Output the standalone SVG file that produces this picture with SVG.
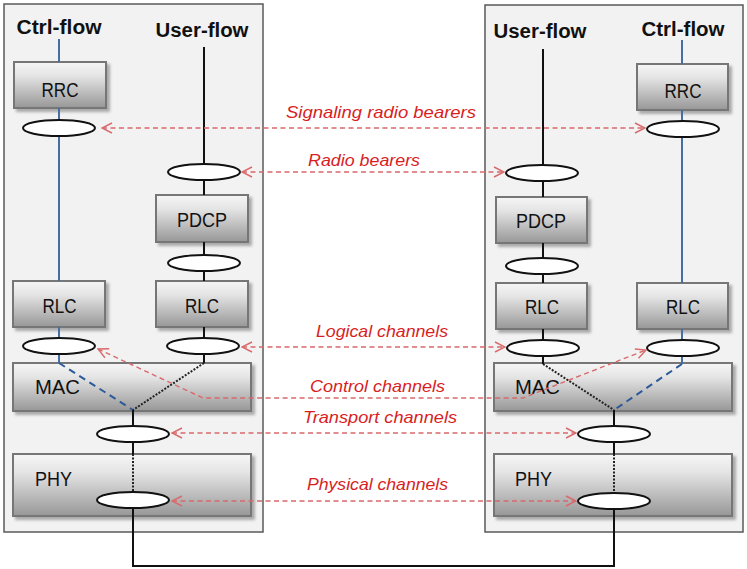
<svg xmlns="http://www.w3.org/2000/svg" width="747" height="569" viewBox="0 0 747 569">
<defs>
<linearGradient id="boxg" x1="0" y1="0" x2="0" y2="1">
<stop offset="0" stop-color="#f6f6f6"/>
<stop offset="0.3" stop-color="#e4e4e4"/>
<stop offset="1" stop-color="#979797"/>
</linearGradient>
<filter id="sh" x="-10%" y="-10%" width="130%" height="140%">
<feDropShadow dx="3" dy="3" stdDeviation="1.5" flood-color="#000" flood-opacity="0.3"/>
</filter>
<marker id="ah" viewBox="0 0 12 12" refX="11" refY="6" markerWidth="12" markerHeight="12" markerUnits="userSpaceOnUse" orient="auto-start-reverse">
<path d="M1,1 L11,6 L1,11" fill="none" stroke="#d96a6c" stroke-width="1.4"/>
</marker>
<style>
.panel{fill:#f2f2f2;stroke:#5a5a5a;stroke-width:1.5}
.box{fill:url(#boxg);stroke:#767676;stroke-width:2;filter:url(#sh)}
.bl{font-family:"Liberation Sans",Arial,sans-serif;font-size:20px;fill:#111;text-anchor:middle}
.bl2{font-family:"Liberation Sans",Arial,sans-serif;font-size:20px;fill:#111}
.hd{font-family:"Liberation Sans",Arial,sans-serif;font-size:20px;font-weight:bold;fill:#111;text-anchor:middle}
.lab{font-family:"Liberation Sans",Arial,sans-serif;font-size:17px;font-style:italic;fill:#d81e1e}
.el{fill:#fff;stroke:#111;stroke-width:2}
.ctl{stroke:#456ea5;stroke-width:2;fill:none}
.ctld{stroke:#2c5a99;stroke-width:2;fill:none;stroke-dasharray:7,5}
.usr{stroke:#111;stroke-width:2;fill:none}
.usrd{stroke:#222;stroke-width:2;fill:none;stroke-dasharray:2,1.5}
.arr{stroke:#d96a6c;stroke-width:1.4;fill:none;stroke-dasharray:5,3.5;marker-start:url(#ah);marker-end:url(#ah)}
</style>
</defs>

<g id="panels">
<rect class="panel" x="4" y="4" width="259" height="528"/>
<rect class="panel" x="485" y="5" width="258" height="527"/>
</g>

<g id="headers">
<text class="hd" x="59" y="34" textLength="85" lengthAdjust="spacingAndGlyphs">Ctrl-flow</text>
<text class="hd" x="202" y="37" textLength="93" lengthAdjust="spacingAndGlyphs">User-flow</text>
<text class="hd" x="540" y="38" textLength="93" lengthAdjust="spacingAndGlyphs">User-flow</text>
<text class="hd" x="683" y="36" textLength="83" lengthAdjust="spacingAndGlyphs">Ctrl-flow</text>
</g>

<g id="node-rrc-l"><rect class="box" x="14" y="62" width="92" height="46"/><text class="bl" x="60" y="97" textLength="37" lengthAdjust="spacingAndGlyphs">RRC</text></g>
<g id="node-pdcp-l"><rect class="box" x="156" y="195" width="92" height="47"/><text class="bl" x="202" y="227" textLength="50" lengthAdjust="spacingAndGlyphs">PDCP</text></g>
<g id="node-rlc-lc"><rect class="box" x="13" y="281" width="92" height="46"/><text class="bl" x="59.5" y="313" textLength="34" lengthAdjust="spacingAndGlyphs">RLC</text></g>
<g id="node-rlc-lu"><rect class="box" x="156" y="281" width="92" height="46"/><text class="bl" x="202" y="313" textLength="34" lengthAdjust="spacingAndGlyphs">RLC</text></g>
<g id="node-mac-l"><rect class="box" x="13" y="363" width="238" height="48"/><text class="bl2" x="35" y="394" textLength="45" lengthAdjust="spacingAndGlyphs">MAC</text></g>
<g id="node-phy-l"><rect class="box" x="13" y="454" width="238" height="62"/><text class="bl2" x="35" y="486" textLength="37" lengthAdjust="spacingAndGlyphs">PHY</text></g>

<g id="node-rrc-r"><rect class="box" x="637" y="64" width="91" height="46"/><text class="bl" x="683" y="98" textLength="37" lengthAdjust="spacingAndGlyphs">RRC</text></g>
<g id="node-pdcp-r"><rect class="box" x="496" y="197" width="91" height="46"/><text class="bl" x="541" y="228" textLength="50" lengthAdjust="spacingAndGlyphs">PDCP</text></g>
<g id="node-rlc-ru"><rect class="box" x="496" y="283" width="91" height="46"/><text class="bl" x="542" y="314" textLength="34" lengthAdjust="spacingAndGlyphs">RLC</text></g>
<g id="node-rlc-rc"><rect class="box" x="637" y="283" width="91" height="46"/><text class="bl" x="683" y="314" textLength="34" lengthAdjust="spacingAndGlyphs">RLC</text></g>
<g id="node-mac-r"><rect class="box" x="494" y="363" width="238" height="48"/><text class="bl2" x="515" y="394" textLength="45" lengthAdjust="spacingAndGlyphs">MAC</text></g>
<g id="node-phy-r"><rect class="box" x="494" y="454" width="238" height="62"/><text class="bl2" x="515" y="486" textLength="37" lengthAdjust="spacingAndGlyphs">PHY</text></g>

<g id="connectors">
<path class="ctl" d="M59,39 V62 M59,108 V281 M59,327 V363"/>
<path class="ctld" d="M59,363 L133,410"/>
<path class="usr" d="M204,47 V195 M204,242 V281 M204,327 V363"/>
<path class="usrd" d="M204,363 L133,410"/>
<path class="usr" d="M133,410 V454"/>
<path class="usrd" d="M133,454 V500"/>
<path class="ctl" d="M682,40 V64 M682,110 V283 M682,329 V364"/>
<path class="ctld" d="M682,364 L614,410"/>
<path class="usr" d="M543,49 V197 M543,243 V283 M543,329 V364"/>
<path class="usrd" d="M543,364 L614,410"/>
<path class="usr" d="M614,410 V454"/>
<path class="usrd" d="M614,454 V501"/>
<path class="usr" d="M133,500 V566 H614 V501"/>
</g>

<g id="bearers-left">
<g id="srb-l"><ellipse class="el" cx="59" cy="128" rx="36" ry="8"/></g>
<g id="rb-l"><ellipse class="el" cx="204" cy="172" rx="36" ry="8"/></g>
<g id="pd-l"><ellipse class="el" cx="204" cy="263" rx="36" ry="8"/></g>
<g id="lc-lc"><ellipse class="el" cx="59" cy="346" rx="36" ry="8"/></g>
<g id="lc-lu"><ellipse class="el" cx="203" cy="346" rx="36" ry="8"/></g>
<g id="tc-l"><ellipse class="el" cx="133" cy="434" rx="36" ry="8"/></g>
<g id="pc-l"><ellipse class="el" cx="133" cy="500" rx="36" ry="8"/></g>
</g>
<g id="bearers-right">
<g id="srb-r"><ellipse class="el" cx="683" cy="129" rx="36" ry="8"/></g>
<g id="rb-r"><ellipse class="el" cx="542" cy="173" rx="36" ry="8"/></g>
<g id="pd-r"><ellipse class="el" cx="542" cy="266" rx="36" ry="8"/></g>
<g id="lc-ru"><ellipse class="el" cx="543" cy="348" rx="36" ry="8"/></g>
<g id="lc-rc"><ellipse class="el" cx="683" cy="348" rx="36" ry="8"/></g>
<g id="tc-r"><ellipse class="el" cx="614" cy="434" rx="36" ry="8"/></g>
<g id="pc-r"><ellipse class="el" cx="614" cy="501" rx="36" ry="8"/></g>
</g>

<g id="channel-arrows">
<path class="arr" d="M102,128 H645"/>
<path class="arr" d="M242,172 H504"/>
<path class="arr" d="M242,347 H505"/>
<path class="arr" d="M98,349 L203,398 H523 L646,350"/>
<path class="arr" d="M172,433 H576"/>
<path class="arr" d="M172,501 H576"/>
</g>

<g id="channel-labels">
<text class="lab" x="286" y="118" textLength="190" lengthAdjust="spacingAndGlyphs">Signaling radio bearers</text>
<text class="lab" x="308" y="166" textLength="112" lengthAdjust="spacingAndGlyphs">Radio bearers</text>
<text class="lab" x="316" y="337" textLength="132" lengthAdjust="spacingAndGlyphs">Logical channels</text>
<text class="lab" x="310" y="392" textLength="135" lengthAdjust="spacingAndGlyphs">Control channels</text>
<text class="lab" x="303" y="423" textLength="154" lengthAdjust="spacingAndGlyphs">Transport channels</text>
<text class="lab" x="307" y="490" textLength="141" lengthAdjust="spacingAndGlyphs">Physical channels</text>
</g>
</svg>
